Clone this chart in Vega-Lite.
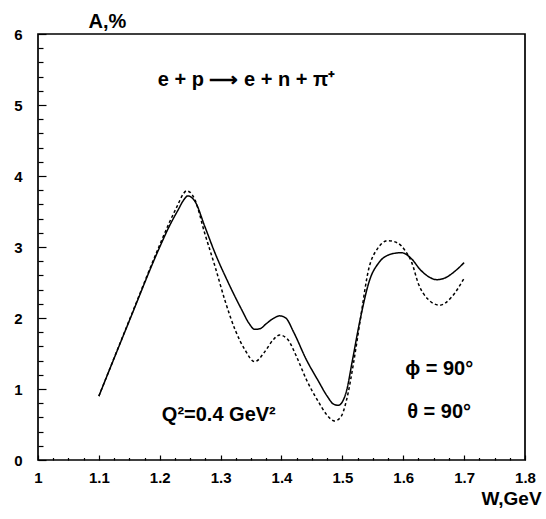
{
  "$schema": "https://vega.github.io/schema/vega-lite/v6.json",
  "width": 487,
  "height": 426,
  "autosize": {"type": "none"},
  "padding": {"left": 38, "top": 34, "right": 21, "bottom": 59},
  "background": "white",
  "config": {
    "view": {"stroke": "black", "strokeWidth": 1.7},
    "font": "Liberation Sans"
  },
  "datasets": {
    "curves": [
      {"W": 1.10, "A": 0.90, "s": "solid"},
      {"W": 1.15, "A": 1.96, "s": "solid"},
      {"W": 1.20, "A": 3.00, "s": "solid"},
      {"W": 1.215, "A": 3.28, "s": "solid"},
      {"W": 1.23, "A": 3.52, "s": "solid"},
      {"W": 1.24, "A": 3.67, "s": "solid"},
      {"W": 1.246, "A": 3.72, "s": "solid"},
      {"W": 1.252, "A": 3.70, "s": "solid"},
      {"W": 1.258, "A": 3.64, "s": "solid"},
      {"W": 1.274, "A": 3.29, "s": "solid"},
      {"W": 1.291, "A": 2.91, "s": "solid"},
      {"W": 1.313, "A": 2.49, "s": "solid"},
      {"W": 1.335, "A": 2.11, "s": "solid"},
      {"W": 1.347, "A": 1.92, "s": "solid"},
      {"W": 1.356, "A": 1.84, "s": "solid"},
      {"W": 1.365, "A": 1.85, "s": "solid"},
      {"W": 1.375, "A": 1.92, "s": "solid"},
      {"W": 1.386, "A": 1.99, "s": "solid"},
      {"W": 1.397, "A": 2.03, "s": "solid"},
      {"W": 1.407, "A": 2.00, "s": "solid"},
      {"W": 1.42, "A": 1.80, "s": "solid"},
      {"W": 1.441, "A": 1.41, "s": "solid"},
      {"W": 1.46, "A": 1.12, "s": "solid"},
      {"W": 1.475, "A": 0.90, "s": "solid"},
      {"W": 1.485, "A": 0.79, "s": "solid"},
      {"W": 1.493, "A": 0.77, "s": "solid"},
      {"W": 1.50, "A": 0.82, "s": "solid"},
      {"W": 1.507, "A": 0.98, "s": "solid"},
      {"W": 1.516, "A": 1.38, "s": "solid"},
      {"W": 1.529, "A": 1.97, "s": "solid"},
      {"W": 1.545, "A": 2.54, "s": "solid"},
      {"W": 1.56, "A": 2.78, "s": "solid"},
      {"W": 1.58, "A": 2.90, "s": "solid"},
      {"W": 1.597, "A": 2.92, "s": "solid"},
      {"W": 1.614, "A": 2.83, "s": "solid"},
      {"W": 1.628, "A": 2.68, "s": "solid"},
      {"W": 1.642, "A": 2.58, "s": "solid"},
      {"W": 1.655, "A": 2.54, "s": "solid"},
      {"W": 1.67, "A": 2.57, "s": "solid"},
      {"W": 1.685, "A": 2.66, "s": "solid"},
      {"W": 1.70, "A": 2.78, "s": "solid"},
      {"W": 1.10, "A": 0.90, "s": "dashed"},
      {"W": 1.15, "A": 1.97, "s": "dashed"},
      {"W": 1.20, "A": 3.03, "s": "dashed"},
      {"W": 1.215, "A": 3.33, "s": "dashed"},
      {"W": 1.23, "A": 3.60, "s": "dashed"},
      {"W": 1.238, "A": 3.74, "s": "dashed"},
      {"W": 1.244, "A": 3.79, "s": "dashed"},
      {"W": 1.25, "A": 3.77, "s": "dashed"},
      {"W": 1.258, "A": 3.66, "s": "dashed"},
      {"W": 1.274, "A": 3.19, "s": "dashed"},
      {"W": 1.291, "A": 2.72, "s": "dashed"},
      {"W": 1.307, "A": 2.25, "s": "dashed"},
      {"W": 1.324, "A": 1.83, "s": "dashed"},
      {"W": 1.34, "A": 1.55, "s": "dashed"},
      {"W": 1.356, "A": 1.385, "s": "dashed"},
      {"W": 1.373, "A": 1.53, "s": "dashed"},
      {"W": 1.386, "A": 1.69, "s": "dashed"},
      {"W": 1.397, "A": 1.76, "s": "dashed"},
      {"W": 1.41, "A": 1.70, "s": "dashed"},
      {"W": 1.425, "A": 1.45, "s": "dashed"},
      {"W": 1.441, "A": 1.13, "s": "dashed"},
      {"W": 1.46, "A": 0.83, "s": "dashed"},
      {"W": 1.475, "A": 0.63, "s": "dashed"},
      {"W": 1.487, "A": 0.55, "s": "dashed"},
      {"W": 1.497, "A": 0.60, "s": "dashed"},
      {"W": 1.507, "A": 0.85, "s": "dashed"},
      {"W": 1.518, "A": 1.35, "s": "dashed"},
      {"W": 1.529, "A": 1.95, "s": "dashed"},
      {"W": 1.543, "A": 2.68, "s": "dashed"},
      {"W": 1.558, "A": 2.98, "s": "dashed"},
      {"W": 1.575, "A": 3.09, "s": "dashed"},
      {"W": 1.59, "A": 3.06, "s": "dashed"},
      {"W": 1.603, "A": 2.95, "s": "dashed"},
      {"W": 1.614, "A": 2.78, "s": "dashed"},
      {"W": 1.625, "A": 2.48, "s": "dashed"},
      {"W": 1.64, "A": 2.27, "s": "dashed"},
      {"W": 1.66, "A": 2.18, "s": "dashed"},
      {"W": 1.68, "A": 2.30, "s": "dashed"},
      {"W": 1.70, "A": 2.56, "s": "dashed"}
    ],
    "notes": [
      {"W": 1.3425, "A": 5.35, "t": "e + p ⟶ e + n + π⁺"},
      {"W": 1.297, "A": 0.63, "t": "Q²=0.4 GeV²"},
      {"W": 1.659, "A": 1.28, "t": "ϕ =  90°"},
      {"W": 1.659, "A": 0.68, "t": "θ =  90°"}
    ]
  },
  "resolve": {"axis": {"x": "independent", "y": "independent"}},
  "layer": [
    {
      "data": {"name": "curves"},
      "mark": {"type": "line", "interpolate": "monotone", "color": "black", "strokeWidth": 1.5},
      "encoding": {
        "x": {
          "field": "W", "type": "quantitative",
          "scale": {"domain": [1, 1.8], "nice": false, "zero": false},
          "axis": {
            "orient": "bottom",
            "values": [1, 1.1, 1.2, 1.3, 1.4, 1.5, 1.6, 1.7, 1.8],
            "format": ".1~f",
            "domain": false,
            "grid": false,
            "tickColor": "black",
            "tickWidth": 1.2,
            "tickSize": -5,
            "labelPadding": 22,
            "labelFont": "Liberation Sans",
            "labelFontWeight": "bold",
            "labelFontSize": 15,
            "labelColor": "black",
            "labelBaseline": "middle",
            "labelFlush": false,
            "labelOverlap": false,
            "title": "W,GeV",
            "titleFont": "Liberation Sans",
            "titleFontWeight": "bold",
            "titleFontSize": 19,
            "titleColor": "black",
            "titleX": 473,
            "titleY": 38,
            "titleAlign": "center",
            "titleBaseline": "middle"
          }
        },
        "y": {
          "field": "A", "type": "quantitative",
          "scale": {"domain": [0, 6], "nice": false},
          "axis": {
            "orient": "left",
            "values": [0, 1, 2, 3, 4, 5, 6],
            "domain": false,
            "grid": false,
            "tickColor": "black",
            "tickWidth": 1.2,
            "tickSize": -8,
            "labelPadding": 24,
            "labelFont": "Liberation Sans",
            "labelFontWeight": "bold",
            "labelFontSize": 15,
            "labelColor": "black",
            "labelFlush": false,
            "labelOverlap": false,
            "title": "A,%",
            "titleFont": "Liberation Sans",
            "titleFontWeight": "bold",
            "titleFontSize": 20,
            "titleColor": "black",
            "titleAngle": 0,
            "titleX": 69,
            "titleY": -13,
            "titleAlign": "center",
            "titleBaseline": "middle"
          }
        },
        "strokeDash": {
          "field": "s", "type": "nominal",
          "scale": {"domain": ["solid", "dashed"], "range": [[1, 0], [3, 2.5]]},
          "legend": null
        },
        "detail": {"field": "s"}
      }
    },
    {
      "data": {"name": "notes"},
      "mark": {"type": "text", "font": "Liberation Sans", "fontWeight": "bold", "fontSize": 20, "color": "black", "align": "center", "baseline": "middle"},
      "encoding": {
        "x": {
          "field": "W", "type": "quantitative",
          "axis": {
            "orient": "bottom",
            "values": [1.025, 1.05, 1.075, 1.125, 1.15, 1.175, 1.225, 1.25, 1.275, 1.325, 1.35, 1.375, 1.425, 1.45, 1.475, 1.525, 1.55, 1.575, 1.625, 1.65, 1.675, 1.725, 1.75, 1.775],
            "labels": false,
            "domain": false,
            "grid": false,
            "tickColor": "black",
            "tickWidth": 1.2,
            "tickSize": -2.5,
            "title": null
          }
        },
        "y": {
          "field": "A", "type": "quantitative",
          "axis": {
            "orient": "left",
            "values": [0.2, 0.4, 0.6, 0.8, 1.2, 1.4, 1.6, 1.8, 2.2, 2.4, 2.6, 2.8, 3.2, 3.4, 3.6, 3.8, 4.2, 4.4, 4.6, 4.8, 5.2, 5.4, 5.6, 5.8],
            "labels": false,
            "domain": false,
            "grid": false,
            "tickColor": "black",
            "tickWidth": 1.2,
            "tickSize": -5,
            "title": null
          }
        },
        "text": {"field": "t"}
      }
    }
  ]
}
